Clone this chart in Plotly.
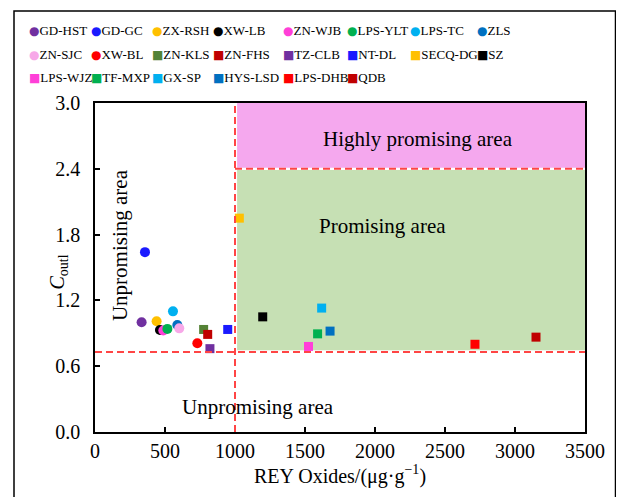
import plotly.graph_objects as go

# ---------------- data ----------------
samples = ["GD-HST", "GD-GC", "ZX-RSH", "XW-LB", "ZN-WJB", "LPS-YLT", "LPS-TC", "ZLS",
           "ZN-SJC", "XW-BL", "ZN-KLS", "ZN-FHS", "TZ-CLB", "NT-DL", "SECQ-DG", "SZ",
           "LPS-WJZ", "TF-MXP", "GX-SP", "HYS-LSD", "LPS-DHB", "QDB"]
rey_oxides = [333, 357, 440, 464, 488, 517, 557, 588,
              602, 731, 776, 805, 821, 948, 1031, 1198,
              1525, 1590, 1619, 1679, 2714, 3150]
c_outl = [1.00, 1.64, 1.01, 0.93, 0.925, 0.94, 1.10, 0.975,
          0.945, 0.81, 0.935, 0.89, 0.76, 0.935, 1.95, 1.05,
          0.78, 0.895, 1.13, 0.92, 0.80, 0.865]
colors = ["#7030A0", "#1A1AFF", "#FFC000", "#000000", "#FF3FD8", "#00B050", "#00B0F0", "#0070C0",
          "#F7A8E8", "#FF0000", "#548235", "#C00000", "#7030A0", "#1A1AFF", "#FFC000", "#000000",
          "#FF3FD8", "#00B050", "#00B0F0", "#0070C0", "#FF0000", "#C00000"]
symbols = ["circle"] * 10 + ["square"] * 12

x_ticks = [0, 500, 1000, 1500, 2000, 2500, 3000, 3500]
y_ticks = [0.0, 0.6, 1.2, 1.8, 2.4, 3.0]
y_tick_labels = ["0.0", "0.6", "1.2", "1.8", "2.4", "3.0"]

rey_threshold = 1000
c_low = 0.73
c_high = 2.4

# ---------------- layout constants ----------------
# the page body has an 8px margin, so the figure is drawn 8px in from the top-left
OFF = 8
W, H = 624 - OFF, 497 - OFF
PLOT_L, PLOT_R, PLOT_T, PLOT_B = 95, 585, 103, 432   # screenshot pixels
L, T = PLOT_L - OFF, PLOT_T - OFF
R, B = W - (PLOT_R - OFF), H - (PLOT_B - OFF)
PW, PH = PLOT_R - PLOT_L, PLOT_B - PLOT_T
FONT = "Times New Roman, Liberation Serif, serif"
DASH_RED = "#FF4545"


def px_to_paper_x(px):
    return (px - PLOT_L) / PW


def px_to_paper_y(py):
    return (PLOT_B - py) / PH


fig = go.Figure()

for name, xv, yv, col, sym in zip(samples, rey_oxides, c_outl, colors, symbols):
    fig.add_trace(go.Scatter(
        x=[xv], y=[yv], mode="markers", name=name, showlegend=False,
        marker=dict(color=col, symbol=sym, size=10 if sym == "circle" else 9,
                    line=dict(width=0)),
    ))

shapes = [
    dict(type="rect", xref="x", yref="y", x0=1015, x1=3500, y0=c_low + 0.015, y1=c_high - 0.01,
         fillcolor="#C6E0B4", line=dict(width=0), layer="below"),
    dict(type="rect", xref="x", yref="y", x0=1015, x1=3500, y0=c_high + 0.01, y1=3.0,
         fillcolor="#F5A8EE", line=dict(width=0), layer="below"),
    dict(type="line", xref="x", yref="y", x0=rey_threshold, x1=rey_threshold, y0=0, y1=3.0,
         line=dict(color=DASH_RED, width=2, dash="7px,4px")),
    dict(type="line", xref="x", yref="y", x0=0, x1=3500, y0=c_low, y1=c_low,
         line=dict(color=DASH_RED, width=2, dash="7px,4px")),
    dict(type="line", xref="x", yref="y", x0=rey_threshold, x1=3500, y0=c_high, y1=c_high,
         line=dict(color=DASH_RED, width=2, dash="7px,4px")),
    dict(type="rect", xref="paper", yref="paper",
         x0=px_to_paper_x(14), x1=px_to_paper_x(615.5),
         y0=px_to_paper_y(510), y1=px_to_paper_y(11),
         line=dict(color="#000000", width=1.5), fillcolor="rgba(0,0,0,0)", layer="above"),
]

AREA_FONT = dict(family=FONT, size=21, color="#000000")
annotations = [
    dict(x=2307, y=2.67, xref="x", yref="y", text="Highly promising area", showarrow=False,
         font=AREA_FONT),
    dict(x=2057, y=1.88, xref="x", yref="y", text="Promising area", showarrow=False,
         font=AREA_FONT),
    dict(x=179, y=1.705, xref="x", yref="y", text="Unpromising area", showarrow=False, textangle=-90,
         font=AREA_FONT),
    dict(x=1164, y=0.23, xref="x", yref="y", text="Unpromising area", showarrow=False,
         font=AREA_FONT),
    dict(x=px_to_paper_x(43), y=px_to_paper_y(272), xref="paper", yref="paper",
         text="<i>C</i><sub>outl</sub>", showarrow=False, textangle=-90,
         font=dict(family=FONT, size=20, color="#000000")),
]

# ---------------- custom legend (3 rows x 8 columns) ----------------
legend_cols_px = [32, 94, 155, 216, 286, 350, 413, 480]
legend_rows_px = [30, 55, 78]
for i, (name, col, sym) in enumerate(zip(samples, colors, symbols)):
    r, c = divmod(i, 8)
    glyph = "●" if sym == "circle" else "■"
    annotations.append(dict(
        x=px_to_paper_x(legend_cols_px[c] - 5), y=px_to_paper_y(legend_rows_px[r]),
        xref="paper", yref="paper", xanchor="left", yanchor="middle", showarrow=False,
        text=f"<span style='color:{col};font-family:DejaVu Sans;font-size:12px'>{glyph}</span>{name}",
        font=dict(family=FONT, size=13, color="#000000"),
    ))

axis_common = dict(
    showgrid=False, zeroline=False, showline=True, linecolor="#000000", linewidth=1.5,
    mirror=True, ticks="inside", ticklen=5, tickwidth=1.5, tickcolor="#000000",
    tickfont=dict(family=FONT, size=20, color="#000000"),
)

fig.update_layout(
    width=W, height=H,
    margin=dict(l=L, r=R, t=T, b=B),
    paper_bgcolor="#FFFFFF", plot_bgcolor="#FFFFFF",
    xaxis=dict(range=[0, 3500], tickvals=x_ticks, ticklabelstandoff=0,
               title=dict(text="REY Oxides/(μg·g<sup>−1</sup>)", standoff=8,
                          font=dict(family=FONT, size=20, color="#000000")),
               **axis_common),
    yaxis=dict(range=[0, 3.0], tickvals=y_ticks, ticktext=y_tick_labels, ticklabelstandoff=9,
               **axis_common),
    shapes=shapes,
    annotations=annotations,
    showlegend=False,
)

fig.write_html("out.html")
